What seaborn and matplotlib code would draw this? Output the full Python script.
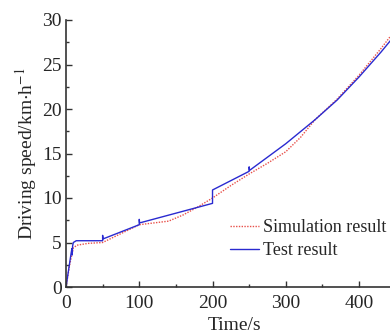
import matplotlib
matplotlib.use("Agg")
import matplotlib.pyplot as plt
import seaborn as sns
from matplotlib.ticker import MultipleLocator

sim_t = [0, 5, 10, 15, 30, 50, 75, 100, 120, 140, 160, 180, 200, 225, 250, 275, 300, 320, 340, 370, 400, 430, 460]
sim_v = [0, 2.5, 4.4, 4.7, 4.9, 5.0, 6.0, 7.0, 7.2, 7.4, 8.1, 9.0, 10.0, 11.4, 12.7, 13.9, 15.2, 16.8, 18.8, 21.1, 23.8, 26.8, 30.0]

test_t = [0, 7, 8, 8.5, 9, 10, 14, 50, 50, 50.5, 100, 100, 100.5, 200, 200, 250, 250, 250.5, 300, 340, 370, 400, 430, 460]
test_v = [0, 3.8, 4.3, 3.6, 4.6, 5.0, 5.2, 5.2, 5.8, 5.4, 7.0, 7.6, 7.2, 9.4, 10.9, 13.0, 13.5, 13.1, 16.1, 18.8, 21.0, 23.6, 26.4, 29.4]

sns.set_style("ticks")
plt.rcParams['font.family'] = ['Liberation Serif', 'DejaVu Serif']
plt.rcParams['mathtext.fontset'] = 'stix'

fig = plt.figure(figsize=(3.9, 3.32), dpi=100)
ax = fig.add_axes([66/390, 45/332, 337/390, 267/332])

sns.lineplot(x=sim_t, y=sim_v, ax=ax, estimator=None, sort=False, color='#e8504a',
             linestyle=(0, (1, 1)), linewidth=1.0, label='Simulation result')
sns.lineplot(x=test_t, y=test_v, ax=ax, estimator=None, sort=False, color='#2a2ad0',
             linewidth=1.0, label='Test result')

ax.set_xlim(0, 460)
ax.set_ylim(0, 30)
ax.xaxis.set_major_locator(MultipleLocator(100))
ax.xaxis.set_minor_locator(MultipleLocator(50))
ax.yaxis.set_major_locator(MultipleLocator(5))
ax.yaxis.set_minor_locator(MultipleLocator(2.5))
ax.tick_params(which='both', direction='in', labelsize=14, color='#333333')
ax.tick_params(which='major', length=4, width=1)
ax.tick_params(axis='x', which='major', pad=6)
ax.tick_params(axis='y', which='major', pad=3)
ax.tick_params(which='minor', length=2, width=1)
for s in ['top', 'right']:
    ax.spines[s].set_visible(False)
for s in ['left', 'bottom']:
    ax.spines[s].set_color('#333333')
    ax.spines[s].set_linewidth(1.2)

ax.set_xlabel('Time/s', fontsize=14, labelpad=3)
ax.set_ylabel('Driving speed/km$\\cdot$h$^{-1}$', fontsize=14, labelpad=2)

ax.legend(loc='upper left', bbox_to_anchor=(230/390, 1 - 219/332), bbox_transform=fig.transFigure,
          frameon=False, fontsize=13, handlelength=1.6, handletextpad=0.25,
          labelspacing=0.35, borderaxespad=0, borderpad=0)

fig.savefig('out.png', dpi=100)
